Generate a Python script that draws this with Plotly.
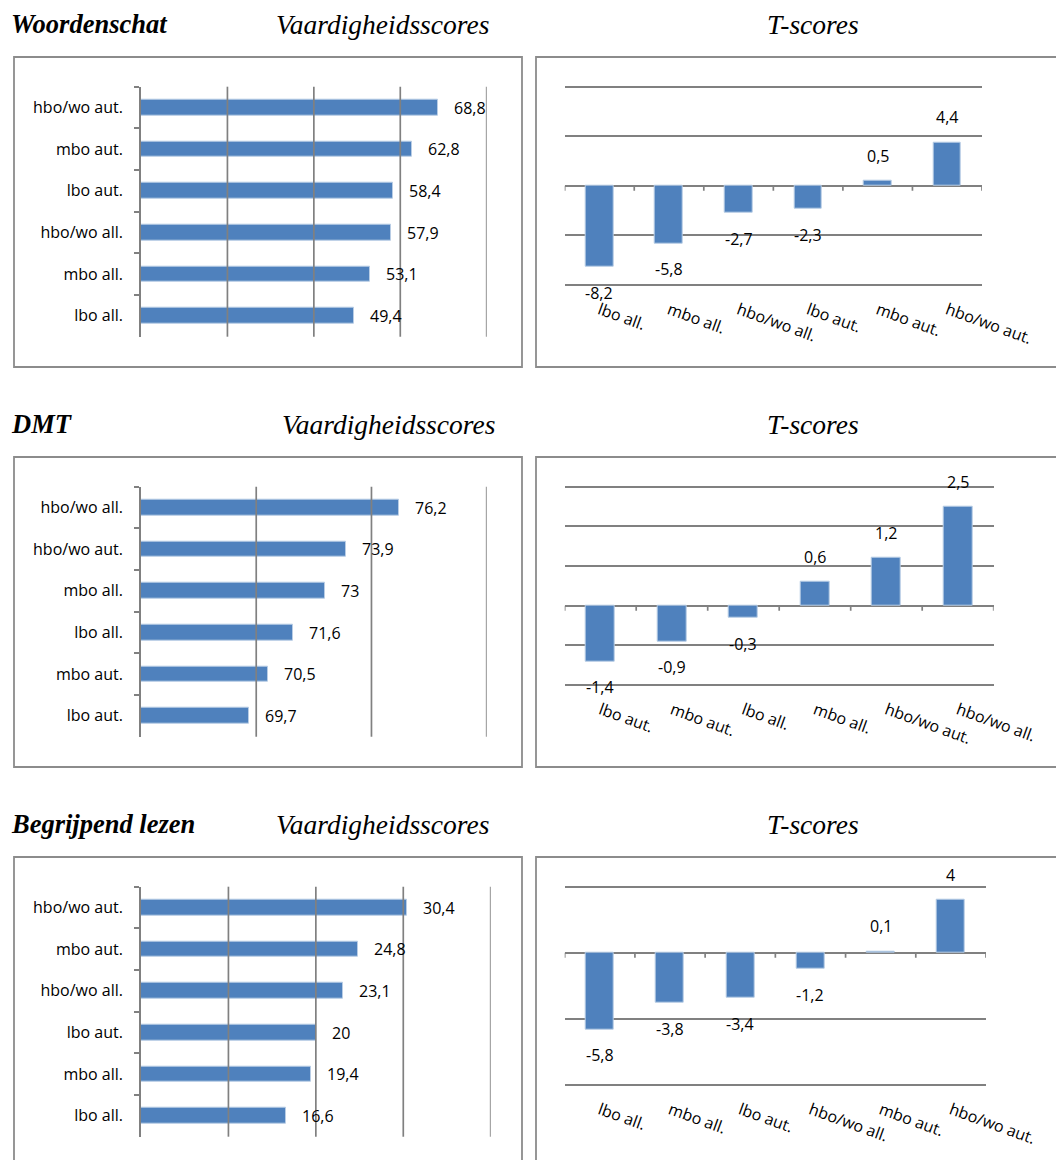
import plotly.graph_objects as go

# ---------------- data ----------------
# Vaardigheidsscores (listed bottom -> top as drawn)
ws_vaard_cats = ["lbo all.", "mbo all.", "hbo/wo all.", "lbo aut.", "mbo aut.", "hbo/wo aut."]
ws_vaard_vals = [49.4, 53.1, 57.9, 58.4, 62.8, 68.8]
dmt_vaard_cats = ["lbo aut.", "mbo aut.", "lbo all.", "mbo all.", "hbo/wo aut.", "hbo/wo all."]
dmt_vaard_vals = [69.7, 70.5, 71.6, 73.0, 73.9, 76.2]
bl_vaard_cats = ["lbo all.", "mbo all.", "lbo aut.", "hbo/wo all.", "mbo aut.", "hbo/wo aut."]
bl_vaard_vals = [16.6, 19.4, 20.0, 23.1, 24.8, 30.4]

# T-scores (left -> right)
ws_t_cats = ["lbo all.", "mbo all.", "hbo/wo all.", "lbo aut.", "mbo aut.", "hbo/wo aut."]
ws_t_vals = [-8.2, -5.8, -2.7, -2.3, 0.5, 4.4]
dmt_t_cats = ["lbo aut.", "mbo aut.", "lbo all.", "mbo all.", "hbo/wo aut.", "hbo/wo all."]
dmt_t_vals = [-1.4, -0.9, -0.3, 0.6, 1.2, 2.5]
bl_t_cats = ["lbo all.", "mbo all.", "lbo aut.", "hbo/wo all.", "mbo aut.", "hbo/wo aut."]
bl_t_vals = [-5.8, -3.8, -3.4, -1.2, 0.1, 4.0]

row_titles = ["Woordenschat", "DMT", "Begrijpend lezen"]
sub_left = "Vaardigheidsscores"
sub_right = "T-scores"

vaard_ranges = [(0, 80), (65, 80), (0, 40)]
vaard_ticks = [[20, 40, 60, 80], [70, 75, 80], [10, 20, 30, 40]]
t_ranges = [(-10, 10), (-2, 3), (-10, 5)]
t_dticks = [5, 1, 5]

# ---------------- styling ----------------
W, H = 1056, 1160
BAR = "#4F81BD"
BAR_EDGE = "#b9cde5"
GRID = "#808080"
GW = 1.7
FRAME = "#8c8c8c"
SANS = "Open Sans"
SERIF = "Liberation Serif"
FS = 16


def px_x(x):
    return x / W


def px_y(y):
    return 1 - y / H


def fmt(v):
    return f"{v:g}".replace(".", ",")


fig = go.Figure()
shapes = []
annotations = []

vaard = [(ws_vaard_cats, ws_vaard_vals), (dmt_vaard_cats, dmt_vaard_vals), (bl_vaard_cats, bl_vaard_vals)]
tsc = [(ws_t_cats, ws_t_vals), (dmt_t_cats, dmt_t_vals), (bl_t_cats, bl_t_vals)]
left_right_px = [486.7, 486.7, 490.7]
right_right_px = [982, 993.7, 986]
sub_left_cx = [382, 388, 382]

for r in range(3):
    off = 400 * r
    li = 2 * r + 1
    ri = 2 * r + 2
    lx = "x" if li == 1 else f"x{li}"
    ly = "y" if li == 1 else f"y{li}"
    rx = f"x{ri}"
    ry = f"y{ri}"

    # ---- left: horizontal bars ----
    cats, vals = vaard[r]
    fig.add_trace(go.Bar(
        x=vals, y=cats, orientation="h", width=0.38,
        marker=dict(color=BAR, line=dict(color=BAR_EDGE, width=1)),
        xaxis=lx, yaxis=ly, showlegend=False, hoverinfo="skip"))
    for c, v in zip(cats, vals):
        annotations.append(dict(
            x=v, y=c, xref=lx, yref=ly, text=fmt(v), showarrow=False,
            xanchor="left", yanchor="middle", xshift=14,
            font=dict(family=SANS, size=FS, color="black")))
    # gridlines drawn over the bars
    for t in vaard_ticks[r]:
        shapes.append(dict(type="line", xref=lx, yref=f"{ly} domain",
                           x0=t, x1=t, y0=0, y1=1, layer="above",
                           line=dict(color=GRID, width=GW)))
    xd = [px_x(141), px_x(left_right_px[r])]
    yd = [px_y(336.7 + off), px_y(86.7 + off)]
    lax = dict(domain=xd, range=list(vaard_ranges[r]), anchor=ly,
               showgrid=False, showticklabels=False, zeroline=False,
               showline=False, ticks="", fixedrange=True, automargin=False)
    lay = dict(domain=yd, type="category", categoryorder="array",
               categoryarray=cats, range=[-0.5, 5.5], anchor=lx,
               showline=True, linecolor=GRID, linewidth=GW,
               ticks="outside", tickson="boundaries", ticklen=5,
               tickcolor=GRID, tickwidth=GW, showgrid=False,
               ticklabelstandoff=13, automargin=False,
               tickfont=dict(family=SANS, size=FS, color="black"),
               fixedrange=True)

    # ---- right: vertical bars ----
    cats2, vals2 = tsc[r]
    fig.add_trace(go.Bar(
        x=cats2, y=vals2, width=0.4,
        marker=dict(color=BAR, line=dict(color=BAR_EDGE, width=1)),
        xaxis=rx, yaxis=ry, showlegend=False, hoverinfo="skip"))
    for c, v in zip(cats2, vals2):
        annotations.append(dict(
            x=c, y=v, xref=rx, yref=ry, text=fmt(v), showarrow=False,
            xanchor="center", yanchor="bottom" if v >= 0 else "top",
            yshift=12 if v >= 0 else -13,
            font=dict(family=SANS, size=FS, color="black")))
    # small tick marks on the zero line at category boundaries
    for k in range(len(cats2) + 1):
        shapes.append(dict(type="line", xref=rx, yref=ry,
                           x0=k - 0.5, x1=k - 0.5, ysizemode="pixel",
                           yanchor=0, y0=0, y1=-5, layer="above",
                           line=dict(color=GRID, width=GW)))
    lo, hi = t_ranges[r]
    top_px, bot_px = 86.7 + off, 285 + off
    pad_px = 3.0
    ppu = (bot_px - top_px) / (hi - lo)
    eps = pad_px / ppu
    rxd = [px_x(564.7), px_x(right_right_px[r])]
    ryd = [px_y(bot_px + pad_px), px_y(top_px - pad_px)]
    rax = dict(domain=rxd, type="category", categoryorder="array",
               categoryarray=cats2, range=[-0.5, 5.5], anchor=ry,
               showline=False, showgrid=False, zeroline=False, ticks="",
               tickangle=20, ticklabelstandoff=9, automargin=False,
               tickfont=dict(family=SANS, size=FS, color="black"),
               fixedrange=True)
    ray = dict(domain=ryd, range=[lo - eps, hi + eps], tick0=0,
               dtick=t_dticks[r], automargin=False,
               anchor=rx, showgrid=True, gridcolor=GRID, gridwidth=GW,
               zeroline=True, zerolinecolor=GRID, zerolinewidth=GW,
               showticklabels=False, showline=False, ticks="",
               fixedrange=True)

    fig.update_layout(**{
        ("xaxis" if li == 1 else f"xaxis{li}"): lax,
        ("yaxis" if li == 1 else f"yaxis{li}"): lay,
        f"xaxis{ri}": rax,
        f"yaxis{ri}": ray,
    })

    # frames
    shapes.append(dict(type="rect", xref="paper", yref="paper",
                       x0=px_x(14), x1=px_x(522),
                       y0=px_y(367 + off), y1=px_y(57 + off),
                       line=dict(color=FRAME, width=1.8), layer="below"))
    shapes.append(dict(type="rect", xref="paper", yref="paper",
                       x0=px_x(536), x1=px_x(1070),
                       y0=px_y(367 + off), y1=px_y(57 + off),
                       line=dict(color=FRAME, width=1.8), layer="below"))

    # titles
    annotations.append(dict(
        x=px_x(9), y=px_y(24 + off), xref="paper", yref="paper",
        xanchor="left", yanchor="middle", showarrow=False,
        text=f"<b><i>{row_titles[r]}</i></b>",
        font=dict(family=SERIF, size=26.5, color="black")))
    annotations.append(dict(
        x=px_x(sub_left_cx[r]), y=px_y(24 + off), xref="paper", yref="paper",
        xanchor="center", yanchor="middle", showarrow=False,
        text=f"<i>{sub_left}</i>",
        font=dict(family=SERIF, size=27.5, color="black")))
    annotations.append(dict(
        x=px_x(813), y=px_y(24 + off), xref="paper", yref="paper",
        xanchor="center", yanchor="middle", showarrow=False,
        text=f"<i>{sub_right}</i>",
        font=dict(family=SERIF, size=27.5, color="black")))

fig.update_layout(
    width=W, height=H, autosize=False,
    margin=dict(l=0, r=0, t=0, b=0, pad=0, autoexpand=False),
    paper_bgcolor="white", plot_bgcolor="white",
    shapes=shapes, annotations=annotations,
    bargap=0, showlegend=False,
)

fig.write_html("out.html", config={"displayModeBar": False, "responsive": False})
